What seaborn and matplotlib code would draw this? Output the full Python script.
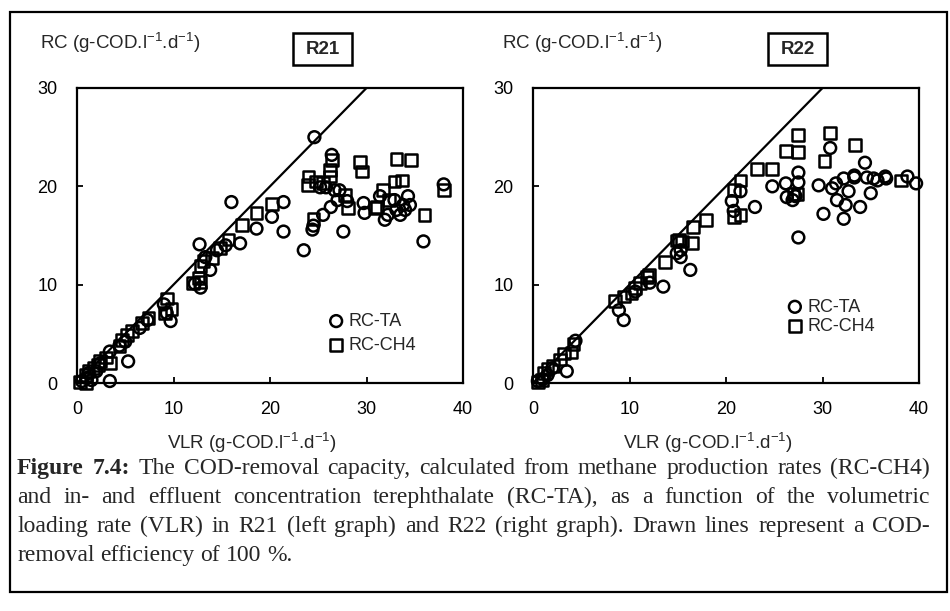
import matplotlib
matplotlib.use("Agg")
import matplotlib.pyplot as plt
from matplotlib.patches import Rectangle
import pandas as pd
import seaborn as sns

# R21: removal capacity from terephthalate (TA) and from methane (CH4) vs VLR
r21_ta_vlr = [0.5, 1.0, 1.2, 1.5, 2.0, 2.4, 3.4, 3.4, 4.4, 5.3, 5.0, 6.5, 7.3, 9.3, 9.7, 9.0,
              12.8, 12.2, 12.7, 13.8, 13.3, 14.5, 15.4, 16.0, 16.9, 18.6, 20.2, 21.4, 21.4,
              23.5, 24.4, 24.6, 24.5, 25.5, 25.2, 25.8, 26.3, 26.4, 26.7, 27.0, 27.2, 27.6,
              28.0, 29.7, 29.8, 31.4, 31.9, 32.2, 32.9, 33.1, 33.5, 33.8, 34.0, 34.3, 34.5,
              35.9, 38.0]
r21_ta_rc = [0.2, 0.5, 1.0, 0.3, 1.2, 2.0, 0.2, 3.2, 3.8, 2.2, 4.2, 5.6, 6.4, 7.1, 6.3, 8.0,
             9.7, 10.1, 14.1, 11.5, 12.8, 13.5, 14.0, 18.4, 14.2, 15.7, 16.9, 18.4, 15.4,
             13.5, 15.6, 25.0, 16.0, 17.1, 19.9, 19.9, 17.9, 23.2, 19.6, 18.6, 19.6, 15.4,
             18.5, 18.3, 17.3, 19.0, 16.6, 17.1, 18.6, 17.6, 17.1, 18.1, 17.6, 19.0, 18.1,
             14.4, 20.2]
r21_ch4_vlr = [0.3, 0.9, 0.9, 1.2, 1.7, 2.2, 2.4, 3.4, 3.0, 4.4, 4.7, 5.2, 5.7, 6.7, 7.4, 9.1,
               9.8, 9.3, 12.0, 12.8, 12.6, 12.8, 13.1, 14.0, 14.8, 15.7, 17.1, 18.6, 20.2,
               24.0, 24.8, 23.9, 24.5, 25.5, 26.4, 26.2, 26.2, 27.8, 28.1, 29.3, 29.5, 30.9,
               31.1, 31.7, 32.3, 32.9, 33.1, 33.7, 34.6, 36.0, 38.0]
r21_ch4_rc = [0.1, 0.0, 0.8, 1.2, 1.5, 1.8, 2.2, 2.0, 2.6, 3.8, 4.4, 4.9, 5.3, 6.1, 6.6, 7.1,
              7.5, 8.6, 10.2, 10.3, 10.7, 11.9, 12.4, 12.7, 13.7, 14.6, 16.1, 17.3, 18.2,
              21.0, 20.5, 20.1, 16.7, 20.3, 22.7, 21.7, 21.0, 19.1, 17.8, 22.5, 21.5, 17.8,
              17.9, 19.6, 18.6, 20.5, 22.8, 20.6, 22.7, 17.1, 19.6]

# R22
r22_ta_vlr = [0.5, 1.0, 1.5, 2.0, 3.5, 4.4, 8.9, 9.4, 10.6, 12.1, 13.5, 14.9, 15.3, 15.3,
              16.3, 20.6, 20.8, 21.5, 23.0, 24.8, 26.2, 26.3, 26.9, 27.2, 27.5, 27.5, 27.5,
              29.6, 30.1, 30.8, 31.0, 31.4, 31.5, 32.2, 32.2, 32.4, 32.7, 33.3, 33.3, 33.9,
              34.4, 34.6, 35.0, 35.3, 35.7, 36.5, 36.6, 38.8, 39.7]
r22_ta_rc = [0.2, 0.4, 0.8, 1.5, 1.2, 4.3, 7.4, 6.4, 9.3, 10.2, 9.8, 13.2, 12.8, 13.5,
             11.5, 18.5, 17.5, 19.5, 17.9, 20.0, 20.3, 18.9, 18.6, 19.0, 21.4, 20.4, 14.8,
             20.1, 17.2, 23.9, 19.8, 20.3, 18.6, 16.7, 20.8, 18.1, 19.5, 20.9, 21.1, 17.9,
             22.4, 20.9, 19.3, 20.8, 20.6, 21.0, 20.8, 21.0, 20.3]
r22_ch4_vlr = [0.5, 0.9, 1.1, 1.5, 2.1, 2.8, 3.2, 4.0, 4.2, 8.5, 9.4, 10.2, 10.6, 11.1, 11.8,
               12.0, 13.7, 14.9, 15.4, 15.1, 16.5, 16.6, 17.9, 20.8, 21.5, 20.8, 21.5, 23.2,
               24.8, 26.2, 27.0, 27.4, 27.5, 27.5, 30.2, 30.8, 33.4, 38.1]
r22_ch4_rc = [0.1, 0.3, 1.0, 1.4, 1.7, 2.4, 3.0, 3.1, 4.0, 8.3, 8.8, 9.1, 9.7, 10.2, 10.8,
              11.0, 12.3, 14.5, 14.4, 14.6, 14.2, 15.9, 16.6, 16.9, 17.1, 19.6, 20.6, 21.8,
              21.8, 23.6, 19.2, 19.2, 23.5, 25.2, 22.6, 25.4, 24.2, 20.6]

# drawn line: 100 % COD-removal efficiency (RC = VLR)
line_vlr = [0, 30]

x_ticks = [0, 10, 20, 30, 40]
y_ticks = [0, 10, 20, 30]
y_title = "RC (g-COD.l$^{-1}$.d$^{-1}$)"
x_title = "VLR (g-COD.l$^{-1}$.d$^{-1}$)"

caption = [
    ([("Figure", True), ("7.4:", True), ("The", False), ("COD-removal", False), ("capacity,", False),
      ("calculated", False), ("from", False), ("methane", False), ("production", False),
      ("rates", False), ("(RC-CH4)", False)], True),
    ([(w, False) for w in "and in- and effluent concentration terephthalate (RC-TA), as a "
      "function of the volumetric".split()], True),
    ([(w, False) for w in "loading rate (VLR) in R21 (left graph) and R22 (right graph). "
      "Drawn lines represent a COD-".split()], True),
    ([(w, False) for w in "removal efficiency of 100 %.".split()], False),
]

sns.set_style("ticks")
plt.rcParams.update({
    "font.family": ["Liberation Sans", "DejaVu Sans"],
    "mathtext.default": "regular",
    "axes.linewidth": 1.6,
    "axes.edgecolor": "black",
    "xtick.direction": "in",
    "ytick.direction": "in",
    "xtick.major.size": 4,
    "ytick.major.size": 4,
    "xtick.major.width": 1.3,
    "ytick.major.width": 1.3,
    "xtick.color": "black",
    "ytick.color": "black",
})

W, H = 950, 611


def fx(px):
    return px / W


def fy(py):
    return 1 - py / H


fig = plt.figure(figsize=(9.5, 6.11), dpi=100)
fig.patch.set_facecolor("white")


def panel(left_px, ta_x, ta_y, ch4_x, ch4_y, name, box_px, title_px, leg_xy, leg_space):
    ax = fig.add_axes([fx(left_px), fy(383), 386 / W, 295 / H])
    ta = pd.DataFrame({"vlr": ta_x, "rc": ta_y})
    ch4 = pd.DataFrame({"vlr": ch4_x, "rc": ch4_y})
    sns.lineplot(x=line_vlr, y=line_vlr, color="black", linewidth=1.6, ax=ax)
    sns.scatterplot(data=ta, x="vlr", y="rc", marker="o", s=72, color="none",
                    edgecolor="black", linewidth=1.8, label="RC-TA", ax=ax,
                    clip_on=False, zorder=3)
    sns.scatterplot(data=ch4, x="vlr", y="rc", marker="s", s=72, color="none",
                    edgecolor="black", linewidth=1.8, label="RC-CH4", ax=ax,
                    clip_on=False, zorder=3)
    ax.set_xlim(0, 40)
    ax.set_ylim(0, 30)
    ax.set_xticks(x_ticks)
    ax.set_yticks(y_ticks)
    ax.tick_params(axis="x", labelsize=13, pad=13)
    ax.tick_params(axis="y", labelsize=13, pad=14)
    ax.set_xlabel("")
    ax.set_ylabel("")
    ax.legend(loc="center left", bbox_to_anchor=leg_xy, frameon=False, fontsize=13,
              handlelength=1.0, handletextpad=0.2, labelspacing=leg_space, borderpad=0,
              borderaxespad=0)
    fig.text(fx(left_px + 175), fy(443), x_title, ha="center", va="center", fontsize=13.5)
    fig.text(fx(title_px), fy(43), y_title, ha="left", va="center", fontsize=13.5)
    x0, x1 = box_px
    fig.patches.append(Rectangle((fx(x0), fy(65)), (x1 - x0) / W, 32 / H,
                                 transform=fig.transFigure, fill=False,
                                 edgecolor="black", linewidth=1.8))
    fig.text(fx((x0 + x1) / 2), fy(49), name, ha="center", va="center",
             fontsize=13.5, fontweight="bold")
    return ax


panel(77, r21_ta_vlr, r21_ta_rc, r21_ch4_vlr, r21_ch4_rc, "R21", (293, 352), 40,
      (0.648, 0.168), 0.4)
panel(533, r22_ta_vlr, r22_ta_rc, r22_ch4_vlr, r22_ch4_rc, "R22", (768, 827), 502,
      (0.655, 0.225), 0.12)

# outer frame around figure + caption
fig.patches.append(Rectangle((fx(10), fy(592)), 937 / W, 580 / H, transform=fig.transFigure,
                             fill=False, edgecolor="black", linewidth=1.6))

renderer = fig.canvas.get_renderer()
cap_size = 17
cap_x0, cap_x1 = fx(17), fx(930)
for i, (words, justify) in enumerate(caption):
    y = fy(474 + 29 * i)
    texts = [fig.text(0, y, w, fontsize=cap_size, family="Liberation Serif",
                      fontweight="bold" if b else "normal", va="baseline")
             for w, b in words]
    widths = [t.get_window_extent(renderer).width / fig.bbox.width for t in texts]
    if justify:
        gap = (cap_x1 - cap_x0 - sum(widths)) / (len(texts) - 1)
    else:
        gap = cap_size * 0.25 * fig.dpi / 72 / fig.bbox.width
    x = cap_x0
    for t, w in zip(texts, widths):
        t.set_x(x)
        x += w + gap

fig.savefig("out.png", dpi=100, facecolor="white")
